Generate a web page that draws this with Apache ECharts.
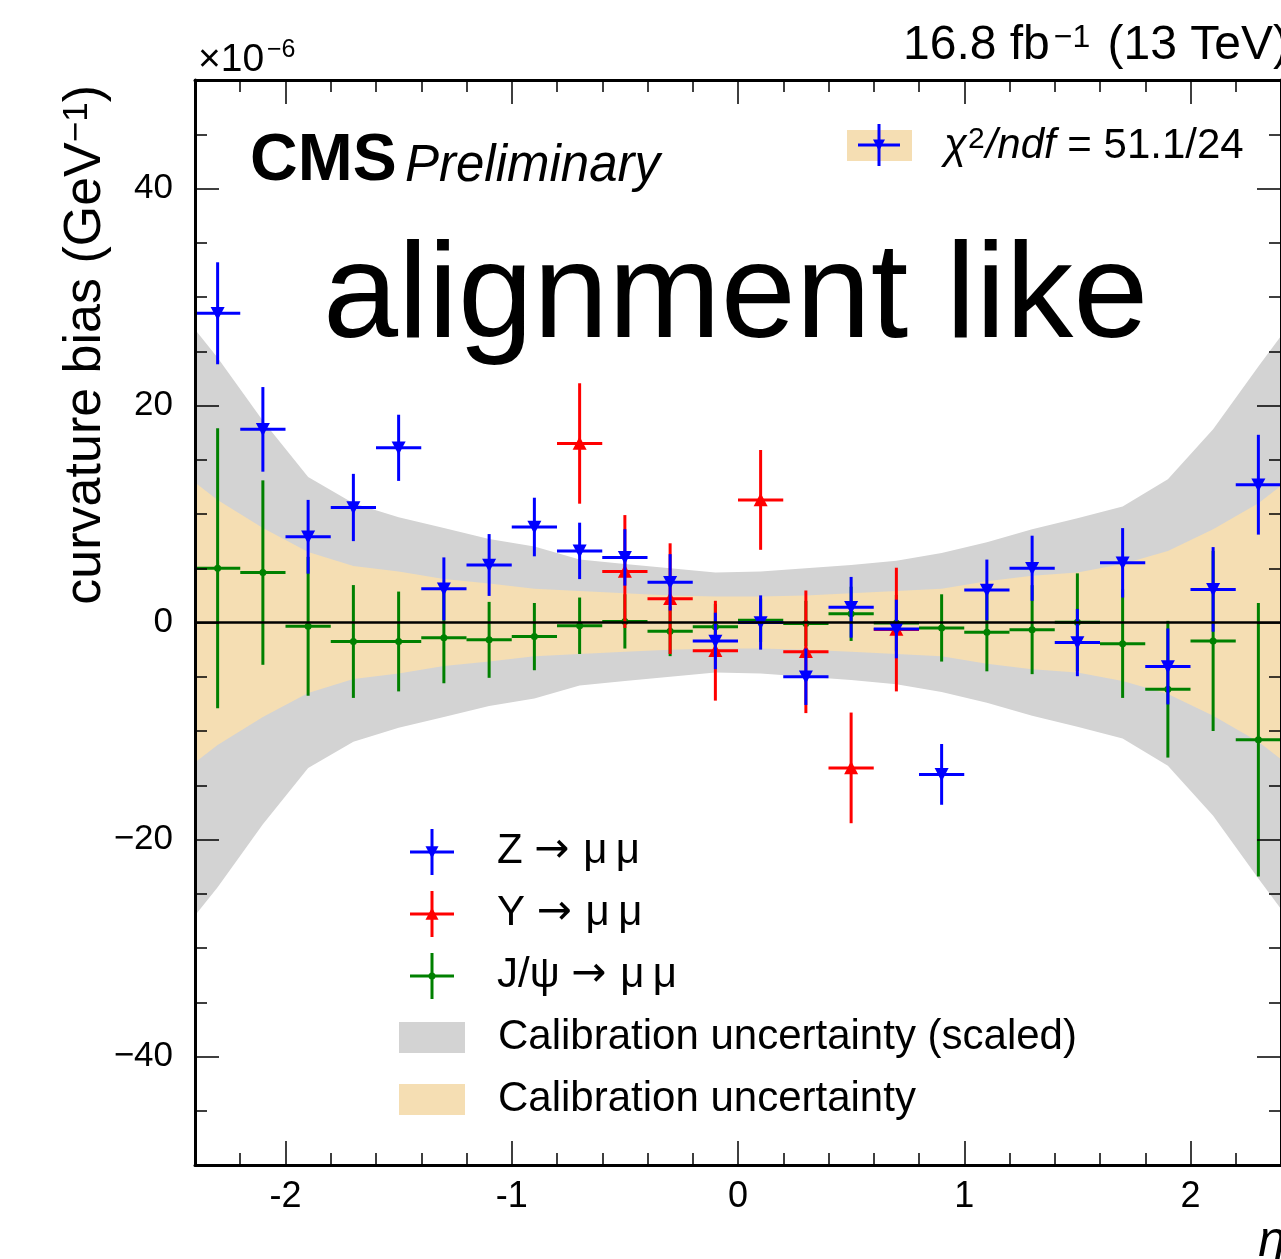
<!DOCTYPE html>
<html>
<head>
<meta charset="utf-8">
<script src="https://cdn.jsdelivr.net/npm/echarts@6/dist/echarts.min.js"></script>
<style>
html,body{margin:0;padding:0;background:#fff;}
#main{width:1281px;height:1259px;}
</style>
</head>
<body>
<div id="main"></div>
<script>
// ---------------- data ----------------
const binHalfWidth = 0.1;
const etaZ = [-2.3,-2.1,-1.9,-1.7,-1.5,-1.3,-1.1,-0.9,-0.7,-0.5,-0.3,-0.1,0.1,0.3,0.5,0.7,0.9,1.1,1.3,1.5,1.7,1.9,2.1,2.3];
const biasZ = [28.5,17.8,7.9,10.6,16.1,3.1,5.3,8.8,6.6,6.0,3.7,-1.7,0.0,-5.0,1.4,-0.6,-14.0,3.0,5.0,-1.85,5.5,-4.05,3.05,12.7];
const errZ  = [4.7,3.9,3.4,3.1,3.05,2.9,2.85,2.7,2.6,2.6,2.6,2.6,2.5,2.6,2.8,2.7,2.8,2.8,3.0,3.1,3.2,3.5,3.9,4.6];

const etaY = [-0.7,-0.5,-0.3,-0.1,0.1,0.3,0.5,0.7];
const biasY = [16.5,4.7,2.2,-2.6,11.3,-2.7,-13.4,-0.65];
const errY  = [5.55,5.2,5.1,4.6,4.6,5.65,5.1,5.7];

const etaJ = etaZ;
const biasJ = [5.0,4.6,-0.35,-1.75,-1.75,-1.4,-1.6,-1.3,-0.3,0.1,-0.8,-0.4,0.2,-0.1,0.8,-0.05,-0.5,-0.9,-0.66,0.03,-1.95,-6.15,-1.7,-10.8];
const errJ  = [12.9,8.5,6.4,5.2,4.6,4.2,3.5,3.1,2.6,2.5,2.3,2.1,2.0,2.1,2.5,2.6,3.1,3.6,4.1,4.5,5.0,6.3,8.3,12.6];

const bandEta    = [-2.4,-2.3,-2.1,-1.9,-1.7,-1.5,-1.3,-1.1,-0.9,-0.7,-0.5,-0.3,-0.1,0.1,0.3,0.5,0.7,0.9,1.1,1.3,1.5,1.7,1.9,2.1,2.3,2.4];
const bandScaled = [27.0,24.4,18.6,13.4,11.0,9.7,8.7,7.7,7.0,5.8,5.4,5.0,4.6,4.7,5.0,5.3,5.7,6.4,7.4,8.6,9.6,10.7,13.2,17.8,23.6,26.4];
const bandCalib  = [12.9,11.3,8.7,6.5,5.2,4.7,4.0,3.6,3.1,2.9,2.7,2.5,2.4,2.4,2.5,2.7,2.9,3.1,3.8,4.3,4.6,5.4,6.6,8.6,11.0,12.6];

const xMajor = [-2,-1,0,1,2];
const xMinor = [-2.2,-1.8,-1.6,-1.4,-1.2,-0.8,-0.6,-0.4,-0.2,0.2,0.4,0.6,0.8,1.2,1.4,1.6,1.8,2.2];
const yMajor = [-40,-20,0,20,40];
const yMinor = [-45,-35,-30,-25,-15,-10,-5,5,10,15,25,30,35,45];

// ---------------- style ----------------
const FONT = '"Liberation Sans", Arial, Helvetica, sans-serif';
const ARROWFONT = '"DejaVu Sans", sans-serif';
const C_BLUE = '#0000ff', C_RED = '#ff0000', C_GREEN = '#008000';
const C_GRAY = '#d3d3d3', C_WHEAT = '#f5deb3';

const chart = echarts.init(document.getElementById('main'), null, {renderer:'canvas'});

function bandSeries(half, color){
  return {
    type:'custom', coordinateSystem:'cartesian2d', silent:true, clip:true,
    data:[[0,0]],
    renderItem:(params, api)=>{
      const pts=[];
      for(let i=0;i<bandEta.length;i++) pts.push(api.coord([bandEta[i], half[i]]));
      for(let i=bandEta.length-1;i>=0;i--) pts.push(api.coord([bandEta[i], -half[i]]));
      return {type:'polygon', shape:{points:pts}, style:{fill:color}};
    }
  };
}

function markerShape(kind, cx, cy, color, s){
  if(kind==='down'){
    return {type:'polygon', shape:{points:[[cx-s/2,cy-s*0.45],[cx+s/2,cy-s*0.45],[cx,cy+s*0.5]]}, style:{fill:color}};
  } else if(kind==='up'){
    return {type:'polygon', shape:{points:[[cx-s/2,cy+s*0.45],[cx+s/2,cy+s*0.45],[cx,cy-s*0.5]]}, style:{fill:color}};
  }
  return {type:'circle', shape:{cx:cx, cy:cy, r:s/2}, style:{fill:color}};
}

function errSeries(etaArr, vals, errs, color, kind, msize){
  return {
    type:'custom', coordinateSystem:'cartesian2d', silent:true, clip:false,
    data: etaArr.map((e,i)=>[e, vals[i], errs[i]]),
    renderItem:(params, api)=>{
      const x=api.value(0), y=api.value(1), e=api.value(2);
      const c=api.coord([x,y]);
      const l=api.coord([x-binHalfWidth,y]), r=api.coord([x+binHalfWidth,y]);
      const t=api.coord([x,y+e]), b=api.coord([x,y-e]);
      return {type:'group', children:[
        {type:'line', shape:{x1:l[0],y1:l[1],x2:r[0],y2:r[1]}, style:{stroke:color, lineWidth:3}},
        {type:'line', shape:{x1:t[0],y1:t[1],x2:b[0],y2:b[1]}, style:{stroke:color, lineWidth:3}},
        markerShape(kind, c[0], c[1], color, msize)
      ]};
    }
  };
}

const axisBase = {type:'value', gridIndex:0, z:10, splitLine:{show:false}};
const tickStyle = {color:'#000', width:1.5};
function xAx(pos, ticks, len, labels, line){
  return Object.assign({}, axisBase, {
    position:pos, min:-2.4, max:2.4,
    axisLine:{show:line, onZero:false, lineStyle:{color:'#000', width:3}},
    axisTick:{show:true, inside:true, length:len, customValues:ticks, lineStyle:tickStyle},
    axisLabel: labels ? {show:true, customValues:xMajor, margin:14, fontSize:36, fontFamily:FONT, color:'#000',
      formatter:(v)=>String(Math.round(v))} : {show:false}
  });
}
function yAx(pos, ticks, len, labels, line){
  return Object.assign({}, axisBase, {
    position:pos, min:-50, max:50,
    axisLine:{show:line, onZero:false, lineStyle:{color:'#000', width:3}},
    axisTick:{show:true, inside:true, length:len, customValues:ticks, lineStyle:tickStyle},
    axisLabel: labels ? {show:true, customValues:yMajor, margin:22, fontSize:35, fontFamily:FONT, color:'#000',
      formatter:(v)=> v<0 ? '\u2212'+Math.abs(v) : String(v)} : {show:false}
  });
}

function txt(x, y, text, size, opts){
  opts = opts || {};
  return {type:'text', x:x, y:y, z:100, rotation:opts.rotation||0, silent:true,
    style:Object.assign({text:text, fontSize:size, fontFamily:FONT, fill:'#000',
      fontWeight:opts.weight||'normal', fontStyle:opts.style||'normal',
      align:opts.align||'left', verticalAlign:'middle'}, opts.extra||{})};
}
function legendErr(cx, cy, hw, vh, color, kind, msize){
  return [
    {type:'line', z:100, shape:{x1:cx-hw,y1:cy,x2:cx+hw,y2:cy}, style:{stroke:color, lineWidth:3}},
    {type:'line', z:100, shape:{x1:cx,y1:cy-vh,x2:cx,y2:cy+vh}, style:{stroke:color, lineWidth:3}},
    Object.assign(markerShape(kind, cx, cy, color, msize), {z:100})
  ];
}
const procRich = {
  t:{fontSize:42, fontFamily:FONT, fill:'#000'},
  a:{fontSize:42, fontFamily:ARROWFONT, fill:'#000', padding:[0,2,0,0]}
};

const graphics = [].concat(
  [
    txt(198, 60, '×10', 39),
    txt(267, 50, '\u22126', 25),
    txt(1289, 46, '{a|16.8 fb}{s|\u22121}{a| (13 TeV)}', 48, {align:'right', extra:{rich:{
      a:{fontSize:48, fontFamily:FONT, fill:'#000'},
      s:{fontSize:32, fontFamily:FONT, fill:'#000', verticalAlign:'top', padding:[0,4,0,4]}}}}),
    txt(250, 162, 'CMS', 66, {weight:'bold'}),
    txt(405, 167, 'Preliminary', 51, {style:'italic'}),
    txt(323, 300, 'alignment like', 135),
    {type:'rect', z:99, shape:{x:847,y:130,width:65,height:31}, style:{fill:C_WHEAT}},
    txt(944, 146, '{i|\u03c7}{s|2}{i|/ndf}{n| = 51.1/24}', 42, {extra:{rich:{
      i:{fontSize:42, fontFamily:FONT, fontStyle:'italic', fill:'#000'},
      s:{fontSize:30, fontFamily:FONT, fill:'#000', verticalAlign:'top', padding:[0,1,0,1]},
      n:{fontSize:42, fontFamily:FONT, fill:'#000'}}}}),
    txt(497, 851, '{t|Z }{a|\u2192}{t| \u03bc\u2009\u03bc}', 42, {extra:{rich:procRich}}),
    txt(497, 913, '{t|Y }{a|\u2192}{t| \u03bc\u2009\u03bc}', 42, {extra:{rich:procRich}}),
    txt(497, 975, '{t|J/\u03c8 }{a|\u2192}{t| \u03bc\u2009\u03bc}', 42, {extra:{rich:procRich}}),
    {type:'rect', z:99, shape:{x:399,y:1022,width:66,height:31}, style:{fill:C_GRAY}},
    {type:'rect', z:99, shape:{x:399,y:1084,width:66,height:31}, style:{fill:C_WHEAT}},
    txt(498, 1037, 'Calibration uncertainty (scaled)', 42),
    txt(498, 1099, 'Calibration uncertainty', 42),
    txt(86, 85, '{a|curvature bias (GeV}{s|\u22121}{a|)}', 52, {align:'right', rotation:Math.PI/2, extra:{rich:{
      a:{fontSize:52, fontFamily:FONT, fill:'#000'},
      s:{fontSize:35, fontFamily:FONT, fill:'#000', verticalAlign:'top'}}}}),
    txt(1286, 1242, '\u03b7', 50, {align:'right', style:'italic'})
  ],
  legendErr(879, 145, 21, 21, C_BLUE, 'down', 12),
  legendErr(432, 852, 22, 23, C_BLUE, 'down', 13),
  legendErr(432, 914, 22, 23, C_RED, 'up', 13),
  legendErr(432, 976, 22, 23, C_GREEN, 'dot', 7)
);

const option = {
  animation:false,
  backgroundColor:'#fff',
  grid:{left:195, top:80, width:1091, height:1085, show:false},
  xAxis:[ xAx('bottom', xMajor, 24, true, true), xAx('bottom', xMinor, 12, false, false),
          xAx('top', xMajor, 24, false, true), xAx('top', xMinor, 12, false, false) ],
  yAxis:[ yAx('left', yMajor, 24, true, true), yAx('left', yMinor, 12, false, false),
          yAx('right', yMajor, 24, false, true), yAx('right', yMinor, 12, false, false) ],
  series:[
    bandSeries(bandScaled, C_GRAY),
    bandSeries(bandCalib, C_WHEAT),
    {type:'line', silent:true, symbol:'none', data:[[-2.4,0],[2.4,0]], lineStyle:{color:'#000', width:2.5}},
    errSeries(etaJ, biasJ, errJ, C_GREEN, 'dot', 7),
    errSeries(etaY, biasY, errY, C_RED, 'up', 14),
    errSeries(etaZ, biasZ, errZ, C_BLUE, 'down', 14)
  ],
  graphic:{elements:graphics}
};
chart.setOption(option);
</script>
</body>
</html>
